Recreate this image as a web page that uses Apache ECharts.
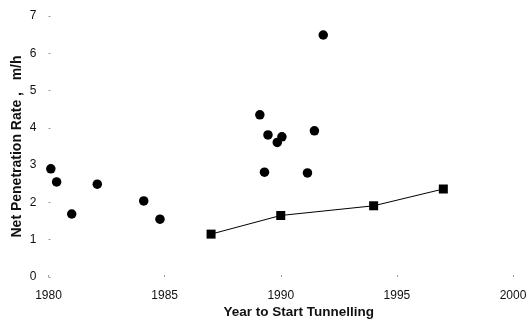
<!DOCTYPE html>
<html>
<head>
<meta charset="utf-8">
<script src="https://cdn.jsdelivr.net/npm/echarts@6/dist/echarts.min.js"></script>
<style>
  html, body { margin: 0; padding: 0; background: #fff; }
  #chart { width: 528px; height: 321px; }
</style>
</head>
<body>
<div id="chart"></div>
<script>
// Individual projects: start year and net penetration rate (m/h)
const projectYears = [1980.1, 1980.35, 1981.0, 1982.1, 1984.1, 1984.8,
                      1989.1, 1989.3, 1989.45, 1989.85, 1990.05, 1991.15, 1991.45, 1991.83];
const projectRates = [2.9, 2.55, 1.69, 2.49, 2.04, 1.55,
                      4.35, 2.81, 3.81, 3.61, 3.76, 2.79, 3.92, 6.49];

// Trend series (squares joined by a line)
const trendYears = [1987, 1990, 1994, 1997];
const trendRates = [1.15, 1.65, 1.91, 2.36];

const xTicks = [1980, 1985, 1990, 1995, 2000];
const yTicks = [0, 1, 2, 3, 4, 5, 6, 7];

const font = '"Liberation Sans", Arial, Helvetica, sans-serif';

const chart = echarts.init(document.getElementById('chart'), null, { renderer: 'canvas' });
chart.setOption({
  animation: false,
  backgroundColor: '#ffffff',
  grid: { left: 48.5, right: 15, top: 16, bottom: 44, containLabel: false, outerBoundsMode: 'none' },
  xAxis: {
    type: 'value',
    min: xTicks[0],
    max: xTicks[xTicks.length - 1],
    interval: 5,
    name: 'Year to Start Tunnelling',
    nameLocation: 'middle',
    nameGap: 28,
    nameMoveOverlap: false,
    nameTextStyle: { fontFamily: font, fontSize: 13.5, fontWeight: 'bold', color: '#111', padding: [0, 0, 0, 36] },
    axisLine: { show: false },
    axisTick: { show: true, length: 2, inside: true, lineStyle: { color: '#999', width: 1 } },
    splitLine: { show: false },
    axisLabel: { fontFamily: font, fontSize: 12, color: '#111', margin: 13, formatter: v => String(v) }
  },
  yAxis: {
    type: 'value',
    min: yTicks[0],
    max: yTicks[yTicks.length - 1],
    interval: 1,
    name: 'Net Penetration Rate ,   m/h',
    nameLocation: 'middle',
    nameGap: 24,
    nameMoveOverlap: false,
    nameTextStyle: { fontFamily: font, fontSize: 14, fontWeight: 'bold', color: '#111' },
    axisLine: { show: false },
    axisTick: { show: true, length: 2, inside: true, lineStyle: { color: '#999', width: 1 } },
    splitLine: { show: false },
    axisLabel: { fontFamily: font, fontSize: 12, color: '#111', margin: 12 }
  },
  series: [
    {
      name: 'Projects',
      type: 'scatter',
      symbol: 'circle',
      symbolSize: 9.5,
      itemStyle: { color: '#000', opacity: 1 },
      data: projectYears.map((x, i) => [x, projectRates[i]])
    },
    {
      name: 'Trend',
      type: 'line',
      symbol: 'rect',
      symbolSize: 9,
      lineStyle: { color: '#000', width: 1 },
      itemStyle: { color: '#000', opacity: 1 },
      data: trendYears.map((x, i) => [x, trendRates[i]])
    }
  ]
});
</script>
</body>
</html>
